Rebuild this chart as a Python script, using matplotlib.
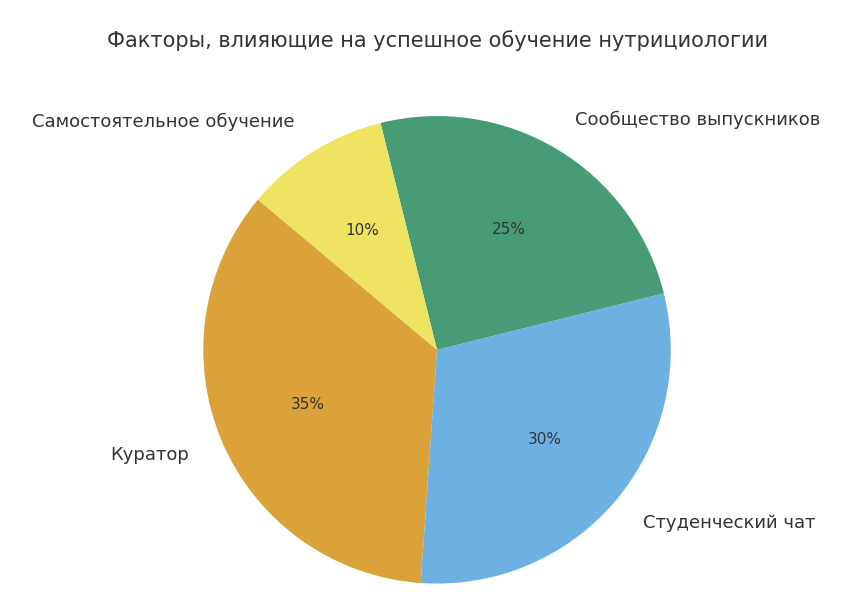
import matplotlib.pyplot as plt

labels = ['Куратор', 'Студенческий чат', 'Сообщество выпускников', 'Самостоятельное обучение']
sizes = [35, 30, 25, 10]
colors = ['#DBA239', '#6DB1E3', '#479C77', '#EFE362']

fig = plt.figure(figsize=(8.62, 5.98), dpi=100)
ax = fig.add_axes([0.007, -0.015, 1.0, 0.86])
wedges, texts, autotexts = ax.pie(sizes, labels=labels, colors=colors, autopct='%1.0f%%',
                                  startangle=140, labeldistance=1.15,
                                  textprops={'color': '#333333', 'fontsize': 13})
for t in autotexts:
    t.set_fontsize(11)
ax.axis('equal')
fig.text(0.507, 0.932, 'Факторы, влияющие на успешное обучение нутрициологии',
         ha='center', va='center', fontsize=15, color='#333333')
fig.savefig('out.png', dpi=100)
